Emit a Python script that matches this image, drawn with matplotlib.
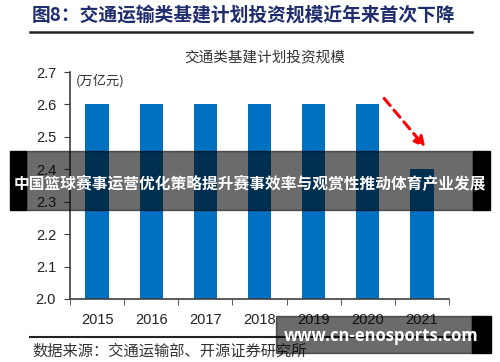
import matplotlib.pyplot as plt
from matplotlib.patches import Rectangle
import numpy as np

plt.rcParams['font.family'] = ['Liberation Sans', 'Noto Sans CJK SC', 'DejaVu Sans']

years = ['2015', '2016', '2017', '2018', '2019', '2020', '2021']
invest = [2.6, 2.6, 2.6, 2.6, 2.6, 2.6, 2.4]
yticks = [2.0, 2.1, 2.2, 2.3, 2.4, 2.5, 2.6, 2.7]

header = '图8：交通运输类基建计划投资规模近年来首次下降'
title = '交通类基建计划投资规模'
unit = '(万亿元)'
source = '数据来源：交通运输部、开源证券研究所'
banner = '中国篮球赛事运营优化策略提升赛事效率与观赏性推动体育产业发展'
site = 'www.cn-enosports.com'

W, H = 500, 362
fig = plt.figure(figsize=(W / 100, H / 100), dpi=100)
ax = fig.add_axes([70 / W, 1 - 299 / H, 379 / W, 227 / H])

x = np.arange(len(years))
ax.bar(x, invest, width=0.43, color='#0070C0', zorder=2)
ax.set_xlim(-0.5, len(years) - 0.5)
ax.set_ylim(2.0, 2.7)
ax.set_yticks(yticks)
ax.set_yticklabels([f'{v:.1f}' for v in yticks], fontsize=10.5, color='#222222')
ax.set_xticks(x)
ax.set_xticklabels(years, fontsize=10.5, color='#222222')
ax.set_xticks(np.arange(-0.5, len(years)), minor=True)
ax.tick_params(axis='x', which='major', length=0, pad=10)
ax.tick_params(axis='x', which='minor', length=4, color='#404040', direction='out')
ax.tick_params(axis='y', length=4, color='#404040', direction='out', pad=6)
for s in ['top', 'right']:
    ax.spines[s].set_visible(False)
for s in ['left', 'bottom']:
    ax.spines[s].set_color('#404040')
    ax.spines[s].set_linewidth(1.2)

# 红色虚线箭头
ax.annotate('', xy=(6.1, 2.46), xytext=(5.27, 2.625),
            arrowprops=dict(arrowstyle='-|>', color='#FF0000', lw=2.2,
                            linestyle=(0, (3, 2)), mutation_scale=16))

ax.text(-0.4, 2.695, unit, fontsize=9.5, color='#333333', va='top',
        family=['Noto Sans CJK SC'])

# 标题
fig.text(32 / W, 1 - 15 / H, header, fontsize=13.5, fontweight='bold',
         color='#1F2D6E', va='center', family=['Noto Sans CJK SC'])
fig.add_artist(plt.Line2D([30 / W, 472 / W], [1 - 32 / H, 1 - 32 / H],
                          color='#222222', lw=1.8))
fig.text(265 / W, 1 - 57 / H, title, fontsize=10.5, color='#333333',
         ha='center', va='center', family=['Noto Sans CJK SC'])

# 数据来源
fig.add_artist(plt.Line2D([30 / W, 472 / W], [1 - 337 / H, 1 - 337 / H],
                          color='#222222', lw=1.5))
fig.text(32 / W, 1 - 351 / H, source, fontsize=11, color='#333333',
         va='center', family=['Noto Sans CJK SC'])

# 横幅
tf = fig.transFigure
fig.patches.append(Rectangle((10 / W, 1 - 210 / H), 16 / W, 59 / H,
                             transform=tf, color='black', zorder=5))
fig.patches.append(Rectangle((473 / W, 1 - 210 / H), 17 / W, 59 / H,
                             transform=tf, color='black', zorder=5))
fig.patches.append(Rectangle((26 / W, 1 - 210 / H), 447 / W, 59 / H,
                             transform=tf, color='black', alpha=0.58, zorder=5))
fig.text(250 / W, 1 - 184 / H, banner, fontsize=11.3, fontweight='bold',
         color='white', ha='center', va='center', zorder=6,
         family=['Noto Sans CJK SC'])

# 网址水印
fig.patches.append(Rectangle((276 / W, 1 - 353 / H), 196 / W, 37 / H,
                             transform=tf, color='black', alpha=0.58, zorder=5))
fig.patches.append(Rectangle((472 / W, 1 - 353 / H), 19 / W, 37 / H,
                             transform=tf, color='black', zorder=5))
fig.text(381 / W, 1 - 336 / H, site, fontsize=12, fontweight='bold',
         color='white', ha='center', va='center', zorder=6,
         family=['Open Sans'])

fig.savefig('out.png', dpi=100)
